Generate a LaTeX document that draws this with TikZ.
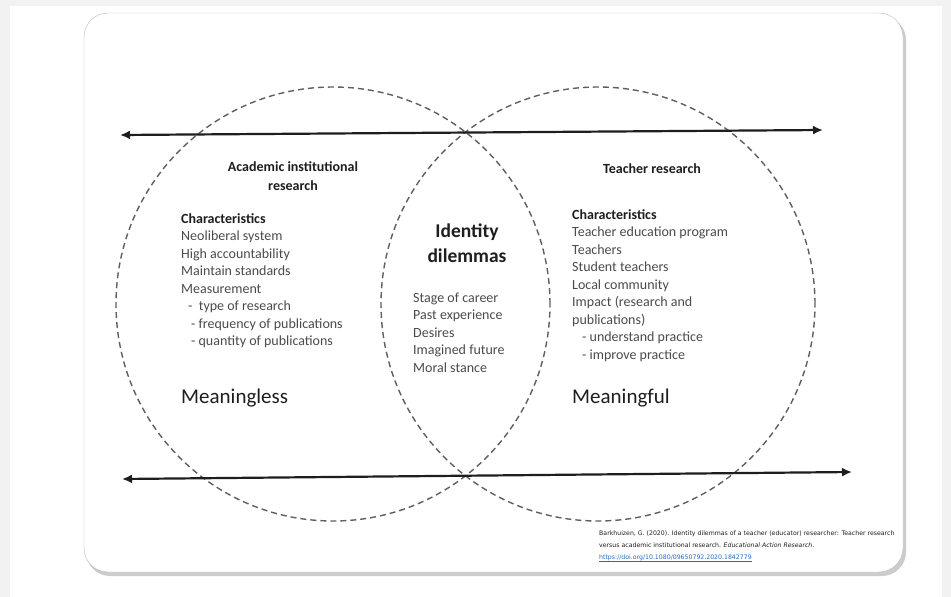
\documentclass[tikz,border=0pt]{standalone}
\usepackage{fontspec}
\setmainfont{Carlito}
\newfontfamily\citefont{DejaVu Sans}
\usetikzlibrary{arrows.meta}
\definecolor{page-grey}{RGB}{242,242,242}
\definecolor{frame-grey}{RGB}{185,185,185}
\definecolor{ring-grey}{RGB}{95,95,95}
\definecolor{item-grey}{RGB}{75,75,75}
\definecolor{head-black}{RGB}{30,30,30}
\definecolor{link-blue}{RGB}{30,110,200}

\tikzset{
  ring/.style={circle, draw=ring-grey, line width=1.4pt, dash pattern=on 6pt off 4pt,
    minimum size=434pt, inner sep=0pt, outer sep=0pt},
  axis/.style={line width=2.2pt, draw=head-black,
    {Latex[length=10pt,width=9pt]}-{Latex[length=10pt,width=9pt]}},
  title/.style={font=\fontsize{14}{17.5}\selectfont\bfseries, text=head-black, inner sep=0pt, anchor=base},
  heading/.style={font=\fontsize{14}{17.5}\selectfont\bfseries, text=head-black, inner sep=0pt, anchor=base west},
  entry/.style={font=\fontsize{14}{17.5}\selectfont, text=item-grey, inner sep=0pt, anchor=base west},
  verdict/.style={font=\fontsize{21}{25}\selectfont, text=head-black, inner sep=0pt, anchor=base west},
  cite/.style={font=\citefont\fontsize{6.2}{12}\selectfont, text=head-black, inner sep=0pt, anchor=base west}
}

\begin{document}
\begin{tikzpicture}[x=1pt,y=-1pt]
    \useasboundingbox (0,0) rectangle (951,597);
    \fill[page-grey] (0,0) rectangle (951,597);
    \fill[white] (10,6) rectangle (942,597);

    % panel
    \fill[black!20, rounded corners=24pt] (86,16) rectangle (906,576);
    \draw[frame-grey, fill=white, rounded corners=24pt] (84,13) rectangle (903,572);

    % the two fields
    \node[ring] (acad) at (333,304) {};
    \node[ring] (teach) at (598,304) {};

    % arrows
    \coordinate (top-l) at (120,135);
    \coordinate (top-r) at (823,130);
    \coordinate (bot-l) at (122,479);
    \coordinate (bot-r) at (852,472);
    \draw[axis] (top-l) -- (top-r);
    \draw[axis] (bot-l) -- (bot-r);

    % academic side
    \node[title] (acad-t1) at (293,171) {Academic institutional};
    \node[title] (acad-t2) at (293,190) {research};
    \node[heading] (acad-h) at (181,223) {Characteristics};
    \foreach \txt [count=\i] in {Neoliberal system, High accountability, Maintain standards,
        Measurement, \hspace*{7pt}-\ \ type of research, \hspace*{10pt}- frequency of publications,
        \hspace*{10pt}- quantity of publications}
      \node[entry] (acad-\i) at (181,223+17.5*\i) {\txt};
    \node[verdict] (acad-v) at (181,403) {Meaningless};

    % overlap
    \node[title, font=\fontsize{19.5}{25}\selectfont\bfseries] (ident-1) at (467,237) {Identity};
    \node[title, font=\fontsize{19.5}{25}\selectfont\bfseries] (ident-2) at (467,262) {dilemmas};
    \foreach \txt [count=\i] in {Stage of career, Past experience, Desires, Imagined future, Moral stance}
      \node[entry] (ident-e\i) at (413,284.5+17.5*\i) {\txt};

    % teacher side
    \node[title] (teach-t) at (652,173) {Teacher research};
    \node[heading] (teach-h) at (572,219) {Characteristics};
    \foreach \txt [count=\i] in {Teacher education program, Teachers, Student teachers, Local community,
        Impact (research and, publications), \hspace*{10pt}- understand practice,
        \hspace*{10pt}- improve practice}
      \node[entry] (teach-\i) at (572,219+17.5*\i) {\txt};
    \node[verdict] (teach-v) at (572,403) {Meaningful};

    % source
    \node[cite] (src-1) at (599,535) {Barkhuizen, G. (2020). Identity dilemmas of a teacher (educator) researcher: Teacher research};
    \node[cite] (src-2) at (599,547) {versus academic institutional research. \textit{Educational Action Research}.};
    \node[cite, text=link-blue] (src-3) at (599,559) {\underline{https://doi.org/10.1080/09650792.2020.1842779}};
\end{tikzpicture}
\end{document}
